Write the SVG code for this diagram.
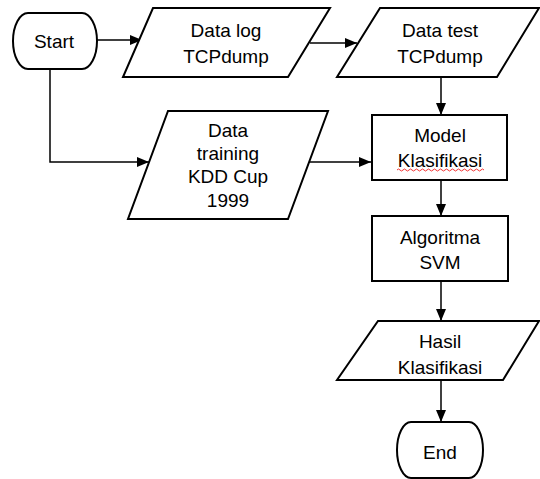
<svg xmlns="http://www.w3.org/2000/svg" width="540" height="479" viewBox="0 0 540 479">
<defs>
<style>
.s{fill:#fff;stroke:#000;stroke-width:2}
.c{fill:none;stroke:#000;stroke-width:1.5}
text{font-family:"Liberation Sans",Arial,sans-serif;font-size:19px;fill:#000;text-anchor:middle}
</style>
<marker id="a" viewBox="0 0 12 10" refX="12" refY="5" markerWidth="12" markerHeight="10" markerUnits="userSpaceOnUse" orient="auto">
<path d="M0 0L12 5L0 10z" fill="#000"/>
</marker>
</defs>
<g id="connectors">
<path class="c" d="M97 40H142" marker-end="url(#a)"/>
<path class="c" d="M310 43H357" marker-end="url(#a)"/>
<path class="c" d="M441 77V115" marker-end="url(#a)"/>
<path class="c" d="M50 69V162H149" marker-end="url(#a)"/>
<path class="c" d="M309 162H371" marker-end="url(#a)"/>
<path class="c" d="M441 180V216" marker-end="url(#a)"/>
<path class="c" d="M441 281V321" marker-end="url(#a)"/>
<path class="c" d="M441 380V422" marker-end="url(#a)"/>
</g>
<g id="start">
<path class="s" d="M28 13H82A15 28 0 0 1 82 69H28A15 28 0 0 1 28 13Z"/>
<text x="54" y="48">Start</text>
</g>
<g id="datalog">
<path class="s" d="M153 8H330L288 77H123Z"/>
<text x="226" y="37">Data log</text>
<text x="226" y="63">TCPdump</text>
</g>
<g id="datatest">
<path class="s" d="M380 8H539L497 77H337Z"/>
<text x="440" y="37">Data test</text>
<text x="440" y="63">TCPdump</text>
</g>
<g id="datatraining">
<path class="s" d="M168 111H328L288 219H128Z"/>
<text x="228" y="137">Data</text>
<text x="228" y="160">training</text>
<text x="228" y="183">KDD Cup</text>
<text x="228" y="207">1999</text>
</g>
<g id="model">
<rect class="s" x="372" y="115" width="135" height="65"/>
<text x="440" y="142">Model</text>
<text x="440" y="167">Klasifikasi</text>
<path d="M397 170q1.5 -2 3 0t3 0t3 0t3 0t3 0t3 0t3 0t3 0t3 0t3 0t3 0t3 0t3 0t3 0t3 0t3 0t3 0t3 0t3 0t3 0t3 0t3 0t3 0t3 0t3 0t3 0t3 0t3 0t3 0" fill="none" stroke="#e00" stroke-width="0.8"/>
</g>
<g id="algoritma">
<rect class="s" x="372" y="216" width="136" height="65"/>
<text x="440" y="244">Algoritma</text>
<text x="440" y="269">SVM</text>
</g>
<g id="hasil">
<path class="s" d="M378 321H539L503 380H337Z"/>
<text x="440" y="348">Hasil</text>
<text x="440" y="374">Klasifikasi</text>
</g>
<g id="end">
<path class="s" d="M411 422H469A14 28 0 0 1 469 478H411A14 28 0 0 1 411 422Z"/>
<text x="440" y="459">End</text>
</g>
</svg>
